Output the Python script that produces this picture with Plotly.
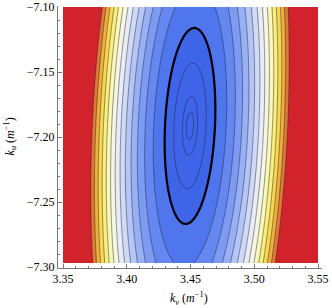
import numpy as np
import plotly.graph_objects as go

# ---- data ----
kv_limits = [3.35, 3.55]          # data extent along k_v
ku_limits = [-7.297, -7.10]       # data extent along k_u
kv_center = 3.4496                # minimum of the surface
ku_center = -7.1915
kv_halfwidth = 0.0196             # half-width of the thick (reference) contour in k_v
ku_halfwidth = 0.0754             # half-height of the thick contour in k_u
tilt = 0.045                      # shift of k_v centre per unit k_u
band_step = 1.1                   # spacing of the filled contour levels (in units of thick level)
inner_levels = [0.41, 0.09, 0.02] # the three thin contours inside the thick one
thick_level = 1.0

band_colors = [
    "rgb(62,100,232)", "rgb(80,118,238)", "rgb(100,135,240)", "rgb(125,155,242)",
    "rgb(152,177,245)", "rgb(180,198,246)", "rgb(208,218,247)", "rgb(232,236,245)",
    "rgb(246,246,226)", "rgb(250,248,185)", "rgb(250,238,125)", "rgb(248,216,80)",
    "rgb(240,176,62)", "rgb(226,120,50)", "rgb(210,35,45)",
]

x_ticks = [3.35, 3.40, 3.45, 3.50, 3.55]
x_ticktext = ["3.35", "3.40", "3.45", "3.50", "3.55"]
y_ticks = [-7.30, -7.25, -7.20, -7.15, -7.10]
y_ticktext = ["\u22127.30", "\u22127.25", "\u22127.20", "\u22127.15", "\u22127.10"]

# ---- surface on a grid ----
kv = np.linspace(kv_limits[0], kv_limits[1], 260)
ku = np.linspace(ku_limits[0], ku_limits[1], 260)
KV, KU = np.meshgrid(kv, ku)
dx = (KV - kv_center - tilt * (KU - ku_center)) / kv_halfwidth
dy = (KU - ku_center) / ku_halfwidth
Z = dx ** 2 + dy ** 2                       # thick contour at Z = 1
Zb = (Z - thick_level) / band_step + 1.0    # band index: levels at 1..14

n_levels = len(band_colors) - 1
cscale = [[i / n_levels, c] for i, c in enumerate(band_colors)]

fig = go.Figure()
fig.add_trace(go.Contour(
    x=kv, y=ku, z=Zb,
    colorscale=cscale, showscale=False,
    contours=dict(coloring="fill", start=1, end=n_levels, size=1),
    line=dict(color="rgba(30,30,50,0.6)", width=0.8),
    hoverinfo="skip",
))
for lv in inner_levels:
    fig.add_trace(go.Contour(
        x=kv, y=ku, z=Z, showscale=False,
        contours=dict(coloring="none", start=lv, end=lv, size=1),
        line=dict(color="rgba(30,30,70,0.6)", width=0.8),
        hoverinfo="skip",
    ))
fig.add_trace(go.Contour(
    x=kv, y=ku, z=Z, showscale=False,
    contours=dict(coloring="none", start=thick_level, end=thick_level, size=1),
    line=dict(color="black", width=2.2),
    hoverinfo="skip",
))

axis_common = dict(
    showgrid=False, zeroline=False, showline=True, linecolor="#777777", linewidth=1,
    ticks="inside", ticklen=4, tickcolor="#777777", tickwidth=1, automargin=False,
    tickfont=dict(family="Liberation Serif", size=12, color="black"),
)
fig.update_xaxes(
    range=[3.35 - 5 / 1275, 3.55 + 4 / 1275],
    tickmode="array", tickvals=x_ticks, ticktext=x_ticktext,
    minor=dict(ticks="inside", ticklen=2, tickcolor="#777777", tick0=3.35, dtick=0.01),
    **axis_common,
)
fig.update_yaxes(
    range=[-7.10 - 261 / 1300, -7.10 + 1 / 1300],
    tickmode="array", tickvals=y_ticks, ticktext=y_ticktext,
    minor=dict(ticks="inside", ticklen=2, tickcolor="#777777", tick0=-7.30, dtick=0.01),
    **axis_common,
)

fig.update_layout(
    width=332, height=308,
    margin=dict(l=58, r=10, t=6, b=40, autoexpand=False),
    paper_bgcolor="white", plot_bgcolor="white",
    font=dict(family="Liberation Serif", size=12, color="black"),
    showlegend=False,
    annotations=[
        dict(text="<i>k</i><sub><i>v</i></sub> (<i>m</i><sup>\u22121</sup>)",
             xref="paper", yref="paper", x=0.496, y=-0.115,
             xanchor="center", yanchor="middle", showarrow=False,
             font=dict(family="Liberation Serif", size=12, color="black")),
        dict(text="<i>k</i><sub><i>u</i></sub> (<i>m</i><sup>\u22121</sup>)",
             xref="paper", yref="paper", x=-0.18, y=0.504, textangle=-90,
             xanchor="center", yanchor="middle", showarrow=False,
             font=dict(family="Liberation Serif", size=12, color="black")),
    ],
)

fig.write_html("out.html", config={"displayModeBar": False},
               post_script="document.body.style.margin='0';document.body.style.overflow='hidden';")
